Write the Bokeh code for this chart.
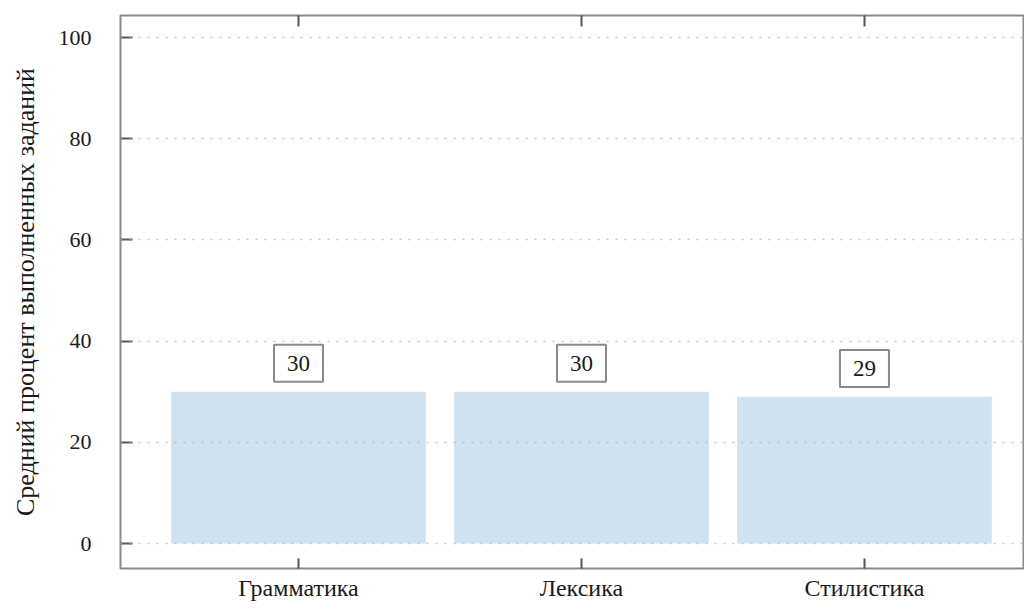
from bokeh.plotting import figure
from bokeh.models import FixedTicker, LinearAxis, Range1d, ColumnDataSource
from bokeh.core.properties import value
from bokeh.embed import file_html
from bokeh.resources import INLINE

categories = ["Грамматика", "Лексика", "Стилистика"]
values = [30, 30, 29]
y_ticks = [0, 20, 40, 60, 80, 100]
y_label = "Средний процент выполненных заданий"

x_pos = list(range(1, len(categories) + 1))
src = ColumnDataSource(dict(
    x=x_pos,
    top=values,
    label_y=[v + 5.6 for v in values],
    text=[str(v) for v in values],
))

FONT = "Liberation Serif, serif"

p = figure(width=1024, height=604, output_backend="svg", toolbar_location=None,
           x_range=Range1d(0.371, 3.562), y_range=Range1d(-4.94, 104.35),
           min_border_left=120, min_border_top=15, min_border_right=1,
           min_border_bottom=36)
p.outline_line_color = "#8a8a8a"
p.outline_line_width = 2
p.background_fill_color = "white"
p.border_fill_color = "white"

p.vbar(x="x", top="top", bottom=0, width=0.9, source=src,
       fill_color="#d0e2f0", line_color=None)

p.rect(x="x", y="label_y", width=49, height=37, width_units="screen",
       height_units="screen", source=src, fill_color="white",
       line_color="#8a8a8a", line_width=2)
p.text(x="x", y="label_y", text="text", source=src, text_align="center",
       text_baseline="middle", text_font=value(FONT), text_font_size="23px",
       text_color="#1a1a1a")

# y axis
ya = p.yaxis[0]
ya.ticker = FixedTicker(ticks=y_ticks)
ya.major_tick_in = 12
ya.major_tick_out = 0
ya.minor_tick_line_color = None
ya.axis_line_color = None
ya.major_tick_line_color = "#555555"
ya.major_tick_line_width = 2
ya.major_label_text_font = FONT
ya.major_label_text_font_size = "22px"
ya.major_label_text_color = "#1a1a1a"
ya.major_label_standoff = 29
ya.axis_label = y_label
ya.axis_label_text_font = FONT
ya.axis_label_text_font_size = "26px"
ya.axis_label_text_font_style = "normal"
ya.axis_label_text_color = "#1a1a1a"
ya.axis_label_standoff = 16

# x axis
xa = p.xaxis[0]
xa.ticker = FixedTicker(ticks=x_pos)
xa.major_label_overrides = {i: c for i, c in zip(x_pos, categories)}
xa.major_tick_in = 10
xa.major_tick_out = 0
xa.minor_tick_line_color = None
xa.axis_line_color = None
xa.major_tick_line_color = "#555555"
xa.major_tick_line_width = 2
xa.major_label_text_font = FONT
xa.major_label_text_font_size = "24px"
xa.major_label_text_color = "#1a1a1a"
xa.major_label_standoff = 6

# top ticks (no labels)
ta = LinearAxis(ticker=FixedTicker(ticks=x_pos), major_tick_in=11,
                major_tick_out=0, axis_line_color=None,
                major_tick_line_color="#555555", major_tick_line_width=2,
                minor_tick_line_color=None,
                major_label_overrides={i: "" for i in x_pos},
                major_label_standoff=0)
p.add_layout(ta, "above")

p.xgrid.visible = False
p.ygrid.ticker = FixedTicker(ticks=y_ticks)
p.ygrid.grid_line_color = "#b0b0b0"
p.ygrid.grid_line_dash = "2 7"
p.ygrid.grid_line_width = 1.5
p.ygrid.grid_line_alpha = 0.7
p.ygrid.level = "overlay"

open("out.html", "w").write(file_html(p, INLINE))
